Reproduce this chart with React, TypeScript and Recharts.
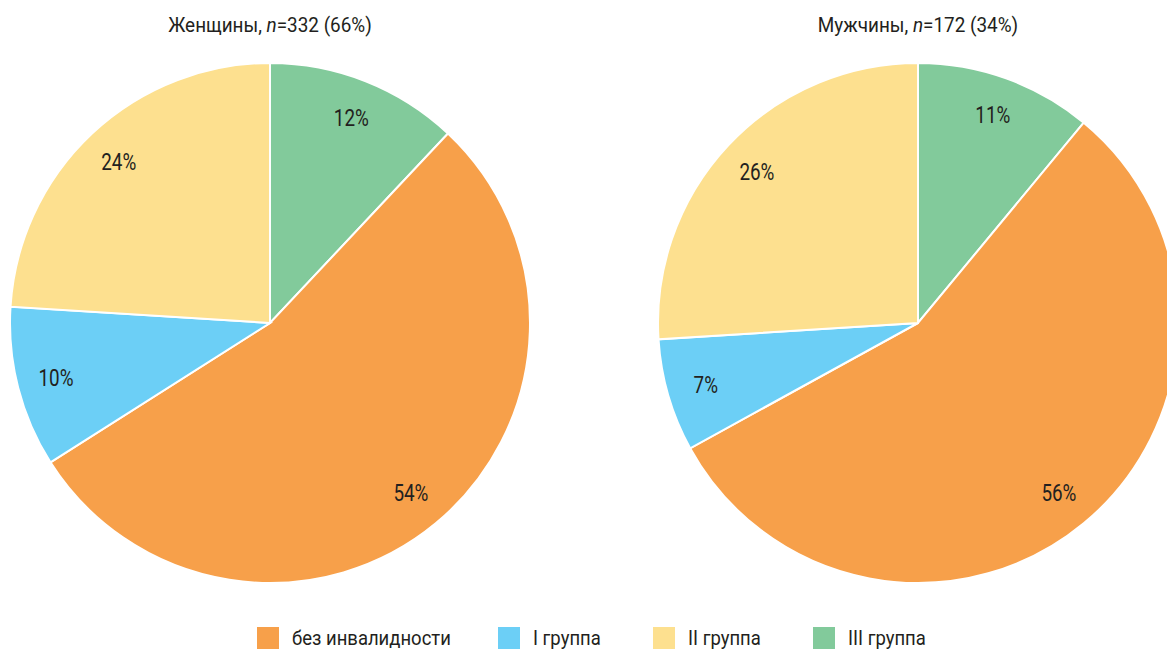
import React from 'react';
import { PieChart, Pie, Cell } from 'recharts';

const categories = ['без инвалидности', 'I группа', 'II группа', 'III группа'];
const colors = ['#F7A04A', '#6CCFF6', '#FDE08F', '#82CA9B'];
const women = [54, 10, 24, 12];
const men = [56, 7, 26, 11];
// clockwise order from 12 o'clock as drawn in the source
const drawOrder = [3, 0, 1, 2];

const FONT = "Roboto, 'DejaVu Sans', sans-serif";
const SQUEEZE = 0.82; // the source uses a condensed face
const RADIAN = Math.PI / 180;

const buildData = (vals: number[]) =>
  drawOrder.map((i) => ({ name: categories[i], value: vals[i], color: colors[i] }));

const renderLabel = (props: any) => {
  const { cx, cy, midAngle, outerRadius, value } = props;
  const r = outerRadius * 0.85;
  const x = cx + r * Math.cos(-midAngle * RADIAN);
  const y = cy + r * Math.sin(-midAngle * RADIAN);
  return (
    <text
      x={0}
      y={0}
      transform={`translate(${x},${y}) scale(${SQUEEZE},1)`}
      fill="#231F20"
      fontSize={23}
      fontFamily={FONT}
      textAnchor="middle"
      dominantBaseline="central"
    >
      {`${value}%`}
    </text>
  );
};

const Title = ({ x, label, n, share }: { x: number; label: string; n: number; share: number }) => (
  <div
    style={{
      position: 'absolute',
      left: x - 200,
      top: 13,
      width: 400,
      textAlign: 'center',
      fontFamily: FONT,
      fontSize: 21,
      color: '#231F20',
      transform: 'scaleX(0.9)',
      transformOrigin: 'center',
    }}
  >
    {label}, <i>n</i>={n} ({share}%)
  </div>
);

const App = () => {
  const womenData = buildData(women);
  const menData = buildData(men);
  const legendX = [257, 498, 653, 813];

  return (
    <div style={{ position: 'relative', width: 1167, height: 649, overflow: 'hidden', background: '#fff' }}>
      <style>{'body{margin:0}'}</style>
      <div style={{ position: 'absolute', left: 0, top: 0 }}>
        <PieChart width={1167} height={649} margin={{ top: 0, right: 0, bottom: 0, left: 0 }}>
          <Pie
            data={womenData}
            dataKey="value"
            cx={270}
            cy={323}
            outerRadius={260}
            startAngle={90}
            endAngle={-270}
            stroke="#fff"
            strokeWidth={2}
            label={renderLabel}
            labelLine={false}
            isAnimationActive={false}
          >
            {womenData.map((d, i) => (
              <Cell key={i} fill={d.color} />
            ))}
          </Pie>
          <Pie
            data={menData}
            dataKey="value"
            cx={918}
            cy={323}
            outerRadius={260}
            startAngle={90}
            endAngle={-270}
            stroke="#fff"
            strokeWidth={2}
            label={renderLabel}
            labelLine={false}
            isAnimationActive={false}
          >
            {menData.map((d, i) => (
              <Cell key={i} fill={d.color} />
            ))}
          </Pie>
        </PieChart>
      </div>
      <Title x={270} label="Женщины" n={332} share={66} />
      <Title x={918} label="Мужчины" n={172} share={34} />
      {categories.map((c, i) => (
        <div key={c} style={{ position: 'absolute', left: legendX[i], top: 627, height: 22, display: 'flex', alignItems: 'center' }}>
          <span style={{ display: 'inline-block', width: 22, height: 22, background: colors[i], marginRight: 13 }} />
          <span
            style={{
              display: 'inline-block',
              fontFamily: FONT,
              fontSize: 21,
              lineHeight: '22px',
              color: '#231F20',
              whiteSpace: 'nowrap',
              transform: 'scaleX(0.88)',
              transformOrigin: 'left center',
            }}
          >
            {c}
          </span>
        </div>
      ))}
    </div>
  );
};

export default App;
